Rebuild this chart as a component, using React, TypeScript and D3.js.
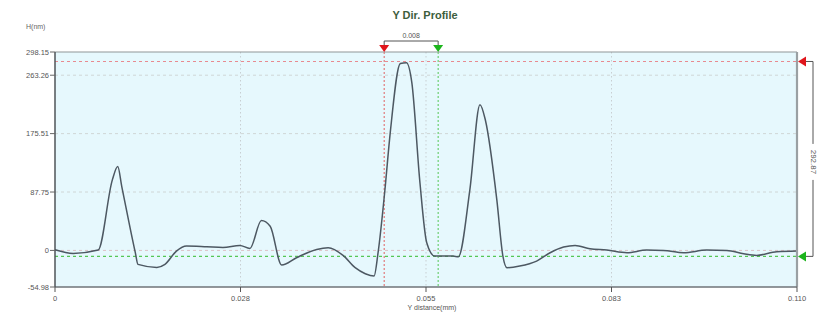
import React, { useEffect, useRef } from 'react';
import * as d3 from 'd3';

// profile data: Y distance (mm) vs height (nm)
const xs = [
  0, 0.0027, 0.0064, 0.0085, 0.0093, 0.0099, 0.0119, 0.0123, 0.0151, 0.0163,
  0.018, 0.0195, 0.0225, 0.0249, 0.0274, 0.0289, 0.0306, 0.0319, 0.0336, 0.0358,
  0.0388, 0.0405, 0.0427, 0.0445, 0.046, 0.0473, 0.0479, 0.0489, 0.0497, 0.0512,
  0.0521, 0.0529, 0.0541, 0.0551, 0.0563, 0.059, 0.0598, 0.0615, 0.063, 0.0638,
  0.0655, 0.0664, 0.067, 0.0689, 0.0714, 0.0734, 0.0754, 0.0771, 0.0793, 0.0818,
  0.0848, 0.0877, 0.0902, 0.0932, 0.0966, 0.0996, 0.1021, 0.104, 0.107, 0.11,
];
const heights = [
  1, -4.5, 0.5, 106, 126, 96, -3, -21, -25.5, -21,
  -1, 6.5, 5.5, 4.5, 7.5, 3, 45, 36.4, -22, -11,
  1.5, 4, -7.5, -26, -35, -38.5, -3, 90, 177, 281,
  282, 252, 102, 12, -8.5, -8.5, -9.5, 91, 219, 196,
  76, -8.5, -26, -23.5, -16, -3.5, 5, 7.5, 2.5, 0.5,
  -3.5, 0.5, 0, -3.5, 0.5, 0, -5, -7.5, -2, -1,
];

const yTicks = [-54.98, 0, 87.75, 175.51, 263.26, 298.15];
const yTickLabels = ['-54.98', '0', '87.75', '175.51', '263.26', '298.15'];
const xTicks = [0, 0.0275, 0.055, 0.0825, 0.11];
const xTickLabels = ['0', '0.028', '0.055', '0.083', '0.110'];

// cursors
const cursorX = [0.0488, 0.0568];
const cursorXLabel = '0.008';
const cursorY = [283.9, -8.97];
const cursorYLabel = '292.87';

const W = 825;
const H = 312;
const margin = { top: 52, right: 28, bottom: 25, left: 55 };
const FONT = '"Liberation Sans", Arial, sans-serif';

const App: React.FC = () => {
  const svgRef = useRef<SVGSVGElement>(null);

  useEffect(() => {
    if (!svgRef.current) return;
    const svg = d3.select(svgRef.current);
    svg.selectAll('*').remove();

    const x0 = margin.left;
    const x1 = W - margin.right;
    const y0 = H - margin.bottom;
    const y1 = margin.top;

    const x = d3.scaleLinear().domain([0, 0.11]).range([x0, x1]);
    const y = d3.scaleLinear().domain([-54.98, 298.15]).range([y0, y1]);

    // title
    svg.append('text')
      .attr('x', 425).attr('y', 19)
      .attr('text-anchor', 'middle')
      .style('font-family', FONT)
      .style('font-size', '11px')
      .style('font-weight', 'bold')
      .style('fill', '#3d5e3d')
      .text('Y Dir. Profile');

    svg.append('text')
      .attr('x', 26).attr('y', 29)
      .style('font-family', FONT)
      .style('font-size', '7px')
      .style('fill', '#666')
      .text('H(nm)');

    // plot background
    svg.append('rect')
      .attr('x', x0).attr('y', y1)
      .attr('width', x1 - x0).attr('height', y0 - y1)
      .style('fill', '#e6f8fd');

    // horizontal grid
    svg.selectAll('.hgrid')
      .data([0, 87.75, 175.51, 263.26])
      .enter()
      .append('line')
      .attr('x1', x0).attr('x2', x1)
      .attr('y1', d => y(d)).attr('y2', d => y(d))
      .style('stroke', d => (d === 0 ? '#dcc0c6' : '#cfd6d6'))
      .style('stroke-dasharray', '3,3')
      .style('stroke-width', 1);

    // vertical grid
    svg.selectAll('.vgrid')
      .data(xTicks.slice(1, -1))
      .enter()
      .append('line')
      .attr('x1', d => x(d)).attr('x2', d => x(d))
      .attr('y1', y1).attr('y2', y0)
      .style('stroke', '#c8cfd2')
      .style('stroke-dasharray', '1.5,2.5')
      .style('stroke-width', 1);

    // horizontal cursors
    const cyCol = ['#e88a90', '#55c655'];
    cursorY.forEach((v, i) => {
      svg.append('line')
        .attr('x1', x0).attr('x2', x1)
        .attr('y1', y(v)).attr('y2', y(v))
        .style('stroke', cyCol[i])
        .style('stroke-dasharray', '3,3')
        .style('stroke-width', 1.2);
    });

    // vertical cursors
    const cxCol = ['#e06060', '#55c655'];
    cursorX.forEach((v, i) => {
      svg.append('line')
        .attr('x1', x(v)).attr('x2', x(v))
        .attr('y1', y1 - 4).attr('y2', y0)
        .style('stroke', cxCol[i])
        .style('stroke-dasharray', '2,2')
        .style('stroke-width', 1);
    });

    // profile line
    const pts = xs.map((d, i) => [d, heights[i]] as [number, number]);
    const line = d3.line<[number, number]>()
      .x(d => x(d[0]))
      .y(d => y(d[1]))
      .curve(d3.curveMonotoneX);
    svg.append('path')
      .datum(pts)
      .attr('d', line)
      .style('fill', 'none')
      .style('stroke', '#4d5862')
      .style('stroke-width', 1.5)
      .style('stroke-linejoin', 'round');

    // frame
    svg.append('line').attr('x1', x0).attr('x2', x1).attr('y1', y1).attr('y2', y1)
      .style('stroke', '#8f9598').style('stroke-width', 1.2);
    svg.append('line').attr('x1', x1).attr('x2', x1).attr('y1', y1).attr('y2', y0)
      .style('stroke', '#9aa0a3').style('stroke-width', 2.2);
    svg.append('line').attr('x1', x0).attr('x2', x1).attr('y1', y0).attr('y2', y0)
      .style('stroke', '#6f7578').style('stroke-width', 1.5);
    svg.append('line').attr('x1', x0).attr('x2', x0).attr('y1', y1).attr('y2', y0)
      .style('stroke', '#4f5558').style('stroke-width', 1.5);

    // y axis ticks
    const yt = svg.selectAll('.ytick')
      .data(yTicks)
      .enter()
      .append('g');
    yt.append('line')
      .attr('x1', x0 - 5).attr('x2', x0)
      .attr('y1', d => y(d)).attr('y2', d => y(d))
      .style('stroke', '#666');
    yt.append('text')
      .attr('x', x0 - 6)
      .attr('y', d => y(d))
      .attr('dy', '0.35em')
      .attr('text-anchor', 'end')
      .style('font-family', FONT)
      .style('font-size', '7.5px')
      .style('fill', '#555')
      .text((d, i) => yTickLabels[i]);

    // x axis ticks
    const xt = svg.selectAll('.xtick')
      .data(xTicks)
      .enter()
      .append('g');
    xt.append('line')
      .attr('x1', d => x(d)).attr('x2', d => x(d))
      .attr('y1', y0).attr('y2', y0 + 5)
      .style('stroke', '#555');
    xt.append('text')
      .attr('x', d => x(d))
      .attr('y', y0 + 14)
      .attr('text-anchor', 'middle')
      .style('font-family', FONT)
      .style('font-size', '7.5px')
      .style('fill', '#555')
      .text((d, i) => xTickLabels[i]);

    svg.append('text')
      .attr('x', 432).attr('y', 310)
      .attr('text-anchor', 'middle')
      .style('font-family', FONT)
      .style('font-size', '7px')
      .style('fill', '#555')
      .text('Y distance(mm)');

    // top cursor markers + bracket
    const bY = 41;
    cursorX.forEach((v, i) => {
      const cx = x(v);
      svg.append('line')
        .attr('x1', cx).attr('x2', cx).attr('y1', bY).attr('y2', y1 - 6)
        .style('stroke', '#555').style('stroke-width', 1);
      svg.append('path')
        .attr('d', `M${cx - 5},${y1 - 7}L${cx + 5},${y1 - 7}L${cx},${y1}Z`)
        .style('fill', i === 0 ? '#e0161c' : '#1db51d');
    });
    svg.append('line')
      .attr('x1', x(cursorX[0])).attr('x2', x(cursorX[1]))
      .attr('y1', bY).attr('y2', bY)
      .style('stroke', '#555').style('stroke-width', 1);
    svg.append('text')
      .attr('x', (x(cursorX[0]) + x(cursorX[1])) / 2)
      .attr('y', bY - 3)
      .attr('text-anchor', 'middle')
      .style('font-family', FONT)
      .style('font-size', '7px')
      .style('fill', '#555')
      .text(cursorXLabel);

    // right cursor markers + bracket
    const bX = x1 + 16;
    const ya = y(cursorY[0]);
    const yb = y(cursorY[1]);
    const mid = (ya + yb) / 2 + 3;
    cursorY.forEach((v, i) => {
      const cy = y(v);
      svg.append('path')
        .attr('d', `M${x1 + 1},${cy}L${x1 + 9},${cy - 5}L${x1 + 9},${cy + 5}Z`)
        .style('fill', i === 0 ? '#e0161c' : '#1db51d');
      svg.append('line')
        .attr('x1', x1 + 9).attr('x2', bX).attr('y1', cy).attr('y2', cy)
        .style('stroke', '#555').style('stroke-width', 1);
    });
    svg.append('line')
      .attr('x1', bX).attr('x2', bX).attr('y1', ya).attr('y2', mid - 18)
      .style('stroke', '#555').style('stroke-width', 1);
    svg.append('line')
      .attr('x1', bX).attr('x2', bX).attr('y1', mid + 18).attr('y2', yb)
      .style('stroke', '#555').style('stroke-width', 1);
    svg.append('text')
      .attr('transform', `translate(${bX + 1},${mid}) rotate(90)`)
      .attr('text-anchor', 'middle')
      .attr('dy', '0.35em')
      .style('font-family', FONT)
      .style('font-size', '8px')
      .style('fill', '#555')
      .text(cursorYLabel);
  }, []);

  return (
    <div style={{ position: 'absolute', left: 0, top: 0, width: W, height: H, background: '#fff' }}>
      <svg ref={svgRef} width={W} height={H} style={{ display: 'block' }} />
    </div>
  );
};

export default App;
